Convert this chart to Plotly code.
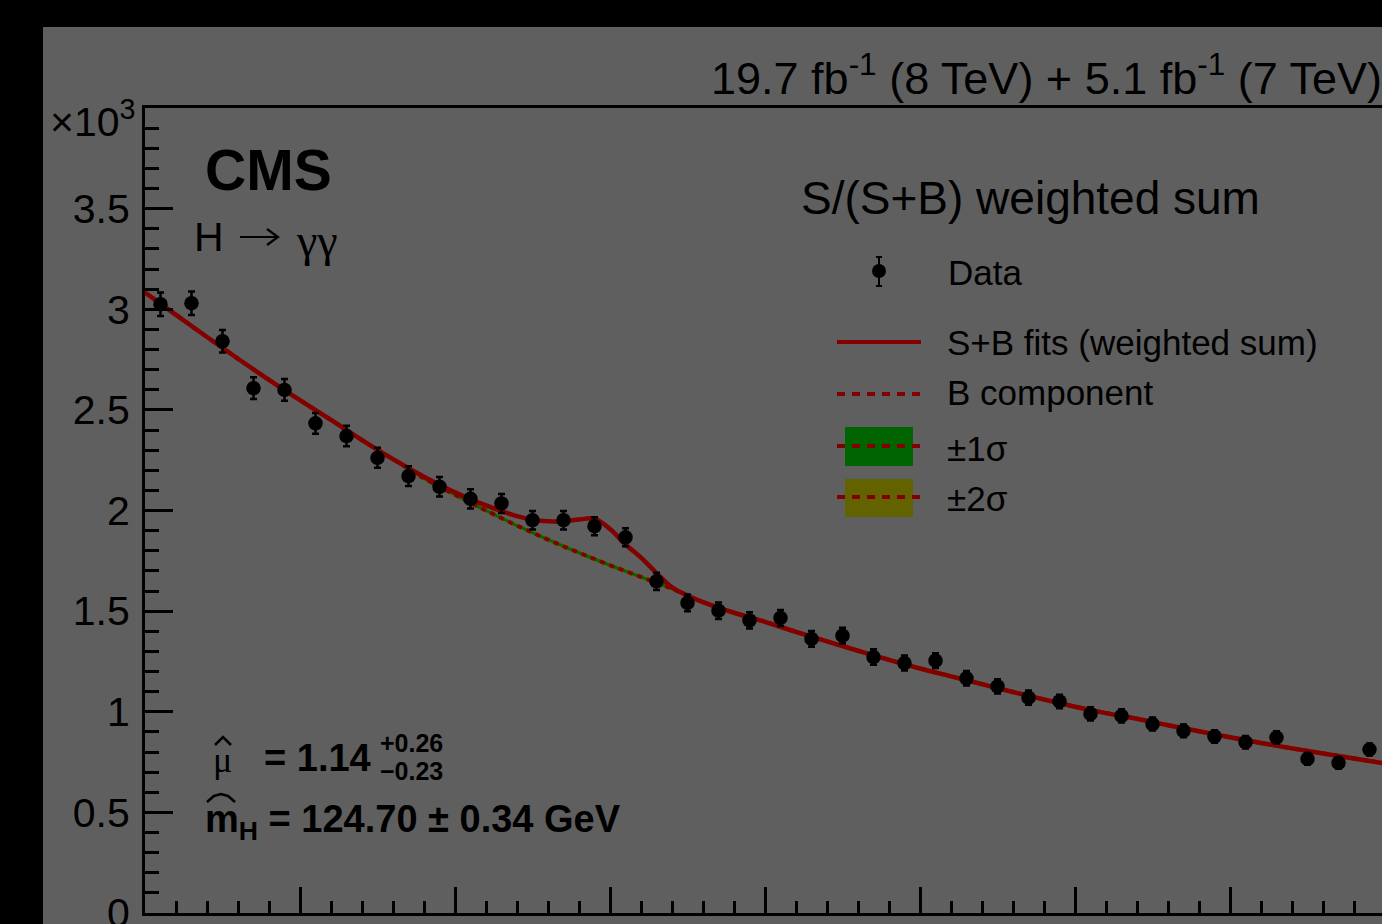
import plotly.graph_objects as go

# ---------------- data (event counts in units of 10^3) ----------------
mass_bins = [101, 103, 105, 107, 109, 111, 113, 115, 117, 119,
             121, 123, 125, 127, 129, 131, 133, 135, 137, 139,
             141, 143, 145, 147, 149, 151, 153, 155, 157, 159,
             161, 163, 165, 167, 169, 171, 173, 175, 177, 179]
data_counts = [3.025, 3.030, 2.841, 2.608, 2.599, 2.433, 2.370, 2.262, 2.171, 2.118,
               2.058, 2.035, 1.952, 1.952, 1.922, 1.867, 1.648, 1.541, 1.502, 1.454,
               1.466, 1.362, 1.378, 1.272, 1.242, 1.254, 1.166, 1.126, 1.070, 1.051,
               0.989, 0.979, 0.939, 0.905, 0.877, 0.849, 0.872, 0.766, 0.746, 0.812]
data_errors = [0.058, 0.058, 0.056, 0.054, 0.054, 0.052, 0.051, 0.050, 0.049, 0.048,
               0.048, 0.047, 0.046, 0.046, 0.045, 0.045, 0.043, 0.041, 0.041, 0.040,
               0.040, 0.039, 0.039, 0.038, 0.037, 0.037, 0.036, 0.035, 0.035, 0.034,
               0.033, 0.033, 0.032, 0.032, 0.031, 0.031, 0.031, 0.029, 0.029, 0.030]

fit_mass = [100, 102, 104, 106, 108, 110, 112, 114, 116,
            118, 119, 120, 121, 122, 123, 124, 125, 126, 127,
            128, 129, 130, 131, 132, 133, 134, 135, 136,
            138, 140, 142, 144, 146, 148, 150, 152, 154, 156, 158,
            160, 162, 164, 166, 168, 170, 172, 174, 176, 178, 180]
sb_fit = [3.083, 2.972, 2.862, 2.754, 2.649, 2.548, 2.450, 2.350, 2.255,
          2.168, 2.128, 2.090, 2.056, 2.025, 1.997, 1.972, 1.955, 1.946, 1.947,
          1.955, 1.960, 1.908, 1.831, 1.766, 1.689, 1.618, 1.578, 1.545,
          1.492, 1.447, 1.397, 1.350, 1.303, 1.258, 1.215, 1.176, 1.137, 1.098, 1.061,
          1.025, 0.993, 0.965, 0.933, 0.903, 0.873, 0.845, 0.818, 0.793, 0.768, 0.743]
b_fit = [3.083, 2.972, 2.862, 2.754, 2.649, 2.548, 2.450, 2.350, 2.255,
         2.160, 2.118, 2.078, 2.038, 2.000, 1.962, 1.925, 1.890, 1.855, 1.822,
         1.790, 1.759, 1.728, 1.699, 1.670, 1.641, 1.612, 1.577, 1.545,
         1.492, 1.447, 1.397, 1.350, 1.303, 1.258, 1.215, 1.176, 1.137, 1.098, 1.061,
         1.025, 0.993, 0.965, 0.933, 0.903, 0.873, 0.845, 0.818, 0.793, 0.768, 0.743]
b_sigma1 = [0.007] * 50
b_sigma2 = [0.011] * 50

y_ticks = [0, 0.5, 1, 1.5, 2, 2.5, 3, 3.5]
y_tick_text = ["0", "0.5", "1", "1.5", "2", "2.5", "3", "3.5"]

# ---------------- style ----------------
W, H = 1382, 924
L, R, T, B = 145, 1382, 108, 913
BG = "rgb(95,95,95)"
RED = "rgb(130,0,0)"
GREEN = "rgb(0,100,0)"
YELLOW = "rgb(98,98,0)"
INK = "rgb(0,0,0)"
FONT = "Liberation Sans, Arial, Helvetica, sans-serif"
SERIF = "Liberation Serif, Times New Roman, serif"


def fx(px):
    return (px - L) / (R - L)


def fy(py):
    return (B - py) / (B - T)


band_lo2 = [b - s for b, s in zip(b_fit, b_sigma2)]
band_hi2 = [b + s for b, s in zip(b_fit, b_sigma2)]
band_lo1 = [b - s for b, s in zip(b_fit, b_sigma1)]
band_hi1 = [b + s for b, s in zip(b_fit, b_sigma1)]

fig = go.Figure()

# +-2 sigma and +-1 sigma bands on the background component
fig.add_trace(go.Scatter(x=fit_mass, y=band_lo2, mode="lines", line=dict(width=0, shape="spline"),
                         hoverinfo="skip", showlegend=False))
fig.add_trace(go.Scatter(x=fit_mass, y=band_hi2, mode="lines", line=dict(width=0, shape="spline"),
                         fill="tonexty", fillcolor=YELLOW, hoverinfo="skip", showlegend=False))
fig.add_trace(go.Scatter(x=fit_mass, y=band_lo1, mode="lines", line=dict(width=0, shape="spline"),
                         hoverinfo="skip", showlegend=False))
fig.add_trace(go.Scatter(x=fit_mass, y=band_hi1, mode="lines", line=dict(width=0, shape="spline"),
                         fill="tonexty", fillcolor=GREEN, hoverinfo="skip", showlegend=False))

# background component (dotted) and signal+background fit (solid)
fig.add_trace(go.Scatter(x=fit_mass, y=b_fit, mode="lines",
                         line=dict(color=RED, width=4, dash="5px,5px", shape="spline"),
                         showlegend=False))
fig.add_trace(go.Scatter(x=fit_mass, y=sb_fit, mode="lines",
                         line=dict(color=RED, width=4.5, shape="spline"),
                         showlegend=False))

# weighted data
fig.add_trace(go.Scatter(x=mass_bins, y=data_counts, mode="markers",
                         marker=dict(color=INK, size=14.5, symbol="circle"),
                         error_y=dict(type="data", array=data_errors, color=INK,
                                      thickness=2.5, width=3.5),
                         showlegend=False))


def seg(x0, y0, x1, y1, color=INK, width=2, dash=None):
    ln = dict(color=color, width=width)
    if dash:
        ln["dash"] = dash
    return dict(type="line", xref="paper", yref="paper",
                x0=fx(x0), x1=fx(x1), y0=fy(y0), y1=fy(y1), line=ln)


def polyline(points, width=2.5):
    path = "M " + " L ".join("{:.5f},{:.5f}".format(fx(px), fy(py)) for px, py in points)
    return dict(type="path", xref="paper", yref="paper", path=path,
                line=dict(color=INK, width=width))


shapes = []
# grey canvas over the black page
shapes.append(dict(type="rect", xref="paper", yref="paper", layer="below",
                   x0=fx(43), x1=fx(1400), y0=fy(930), y1=fy(27),
                   fillcolor=BG, line=dict(width=0)))

# legend symbols
lx0, lx1 = 837, 921
DOTS = "8px,7px"
shapes += [
    seg(879, 257, 879, 286),
    seg(876, 257, 882, 257),
    seg(876, 286, 882, 286),
    dict(type="circle", xref="paper", yref="paper", x0=fx(872), x1=fx(886), y0=fy(264), y1=fy(278),
         fillcolor=INK, line=dict(color=INK, width=0)),
    seg(lx0, 342, lx1, 342, RED, 4),
    seg(lx0, 394, lx1, 394, RED, 4, DOTS),
    dict(type="rect", xref="paper", yref="paper", x0=fx(845), x1=fx(913), y0=fy(466), y1=fy(427),
         fillcolor=GREEN, line=dict(width=0)),
    seg(lx0, 446, lx1, 446, RED, 4, DOTS),
    dict(type="rect", xref="paper", yref="paper", x0=fx(845), x1=fx(913), y0=fy(517), y1=fy(479),
         fillcolor=YELLOW, line=dict(width=0)),
    seg(lx0, 497, lx1, 497, RED, 4, DOTS),
    # arrow of the decay label
    seg(240, 237, 277, 237, INK, 2.2),
    polyline([(267, 229), (278, 237), (267, 245)], 2.2),
    # hats over mu and m
    polyline([(215, 745), (223, 737), (231, 745)]),
    polyline([(207, 802), (214, 796), (221, 794), (228, 796), (235, 802)]),
]


def label(text, px, py, size, anchor="left", family=FONT):
    return dict(text=text, xref="paper", yref="paper", x=fx(px), y=fy(py),
                xanchor=anchor, yanchor="middle", showarrow=False,
                font=dict(family=family, size=size, color=INK))


annotations = [
    label("×10<sup>3</sup>", 48, 119, 41),
    label("19.7 fb<sup>-1</sup> (8 TeV) + 5.1 fb<sup>-1</sup> (7 TeV)", 709, 75, 45),
    label("<b>CMS</b>", 203, 170, 57),
    label("H", 192, 237, 41),
    label("γγ", 294, 240, 46, family=SERIF),
    label("S/(S+B) weighted sum", 799, 198, 46),
    label("Data", 946, 272, 35),
    label("S+B fits (weighted sum)", 945, 342, 35),
    label("B component", 945, 392, 35),
    label("±1σ", 945, 448, 35),
    label("±2σ", 945, 498, 35),
    label("μ", 211, 760, 36, family=SERIF),
    label("<b>= 1.14</b>", 262, 758, 38),
    label("<b>+0.26</b>", 378, 743, 25),
    label("<b>−0.23</b>", 378, 771, 25),
    label("<b>m<sub>H</sub> = 124.70 ± 0.34 GeV</b>", 203, 822, 38),
]

fig.update_layout(
    width=W, height=H, autosize=False,
    margin=dict(l=L, r=W - R, t=T, b=H - B, pad=0),
    paper_bgcolor="black", plot_bgcolor=BG,
    showlegend=False,
    shapes=shapes, annotations=annotations,
    font=dict(family=FONT, color=INK),
)

fig.update_xaxes(
    range=[100, 100 + (R - L) / 15.5],
    showgrid=False, zeroline=False, showticklabels=False,
    showline=True, linecolor=INK, linewidth=3, mirror=True,
    ticks="inside", tick0=100, dtick=10, ticklen=26, tickwidth=2.5, tickcolor=INK,
    minor=dict(ticks="inside", dtick=2, tick0=100, ticklen=12, tickwidth=2.5, tickcolor=INK, showgrid=False),
    automargin=False,
)
fig.update_yaxes(
    range=[0, 4],
    showgrid=False, zeroline=False,
    showline=True, linecolor=INK, linewidth=3,
    ticks="inside", tickvals=y_ticks, ticktext=y_tick_text,
    ticklen=28, tickwidth=2.5, tickcolor=INK,
    minor=dict(ticks="inside", dtick=0.1, tick0=0, ticklen=14, tickwidth=2.5, tickcolor=INK, showgrid=False),
    tickfont=dict(family=FONT, size=41, color=INK),
    ticklabelstandoff=4, ticklabeloverflow="allow",
    automargin=False,
)

fig.write_html("out.html")
